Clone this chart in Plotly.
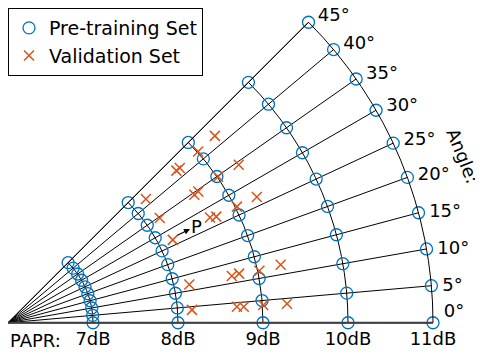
import plotly.graph_objects as go

# ---- data ----
angles_deg = [0, 5, 10, 15, 20, 25, 30, 35, 40, 45]
papr_levels_db = [7, 8, 9, 10, 11]
angle_tick_text = ["\u00a00°<br>\u00a0"] + [f"\u00a0{a}°" for a in angles_deg[1:]]
papr_tick_text = [f"{p}dB" for p in papr_levels_db]

# Pre-training set: full grid of PAPR levels x angles
pre_r = [p for p in papr_levels_db for a in angles_deg]
pre_theta = [a for p in papr_levels_db for a in angles_deg]

# Validation set (PAPR dB, angle deg)
val_r = [9.28, 8.67, 8.72, 9.01, 9.01, 8.18, 8.66, 8.72, 8.17, 8.68, 8.75,
         8.17, 9.29, 9.28, 9.02, 8.18, 8.17, 8.69, 8.78, 9.02, 9.28, 8.70,
         8.78, 9.01, 9.29]
val_theta = [42.1, 42.1, 42.0, 42.0, 34.8, 41.9, 34.5, 34.6, 34.6, 27.5, 27.0,
             26.7, 34.4, 26.8, 26.9, 11.9, 4.0, 11.8, 12.0, 11.7, 12.0, 4.0,
             3.9, 4.0, 3.9]

BLUE = "#0072BD"
ORANGE = "#D95319"
FONT = "DejaVu Sans"

# page body has an 8px margin, so the figure is 8px smaller than the window
OFF = 8
W, H = 483 - OFF, 354 - OFF
ML, MR, MT, MB = 0, 50, 14, 31
PW, PH = W - ML - MR, H - MT - MB


def win2paper(wx, wy):
    fx, fy = wx - OFF, wy - OFF
    return (fx - ML) / PW, (H - MB - fy) / PH


fig = go.Figure()
fig.add_trace(go.Scatterpolar(
    r=pre_r, theta=pre_theta, mode="markers", name="Pre-training Set",
    marker=dict(symbol="circle-open", size=12, color=BLUE,
                line=dict(width=1.3, color=BLUE)),
))
fig.add_trace(go.Scatterpolar(
    r=val_r, theta=val_theta, mode="markers", name="Validation Set",
    marker=dict(symbol="x-thin-open", size=10, color=ORANGE,
                line=dict(width=1.5, color=ORANGE)),
))

ax_p, ay_p = win2paper(196, 226)
hx, hy = win2paper(190, 229)
angx, angy = win2paper(463, 155)
papx, papy = win2paper(8, 340)
legx, legy = win2paper(8, 8)

txt = dict(family=FONT, size=18, color="black")

fig.update_layout(
    width=W, height=H,
    margin=dict(l=ML, r=MR, t=MT, b=MB, pad=0, autoexpand=False),
    paper_bgcolor="white",
    font=txt,
    showlegend=True,
    legend=dict(x=legx, y=legy, xanchor="left", yanchor="top",
                bgcolor="white", bordercolor="black", borderwidth=1,
                font=dict(family=FONT, size=19, color="black"),
                itemwidth=30, tracegroupgap=0),
    polar=dict(
        sector=[0, 45],
        bgcolor="white",
        domain=dict(x=[0, 1], y=[0, 1]),
        radialaxis=dict(
            range=[6, 11], angle=0, side="clockwise",
            tickmode="array", tickvals=papr_levels_db, ticktext=papr_tick_text,
            ticks="", showline=True, linecolor="#404040", linewidth=2,
            showgrid=True, gridcolor="black", gridwidth=1,
            tickfont=txt, tickangle=0,
        ),
        angularaxis=dict(
            direction="counterclockwise", rotation=0,
            tickmode="array", tickvals=angles_deg, ticktext=angle_tick_text,
            ticks="outside", ticklen=1, tickcolor="rgba(0,0,0,0)",
            showline=True, linecolor="black", linewidth=1,
            showgrid=True, gridcolor="black", gridwidth=1,
            tickfont=txt,
        ),
    ),
    annotations=[
        dict(x=ax_p, y=ay_p, xref="paper", yref="paper", text="P", showarrow=False,
             xanchor="center", yanchor="middle", font=txt),
        dict(x=hx, y=hy, xref="paper", yref="paper", text="", showarrow=True,
             ax=-14, ay=7, arrowhead=2, arrowsize=1, arrowwidth=1.2, arrowcolor="black"),
        dict(x=angx, y=angy, xref="paper", yref="paper", text="Angle:", showarrow=False,
             xanchor="center", yanchor="middle", textangle=68, font=txt),
        dict(x=papx, y=papy, xref="paper", yref="paper", text="PAPR:", showarrow=False,
             xanchor="left", yanchor="middle", font=txt),
    ],
)

fig.write_html("out.html")
